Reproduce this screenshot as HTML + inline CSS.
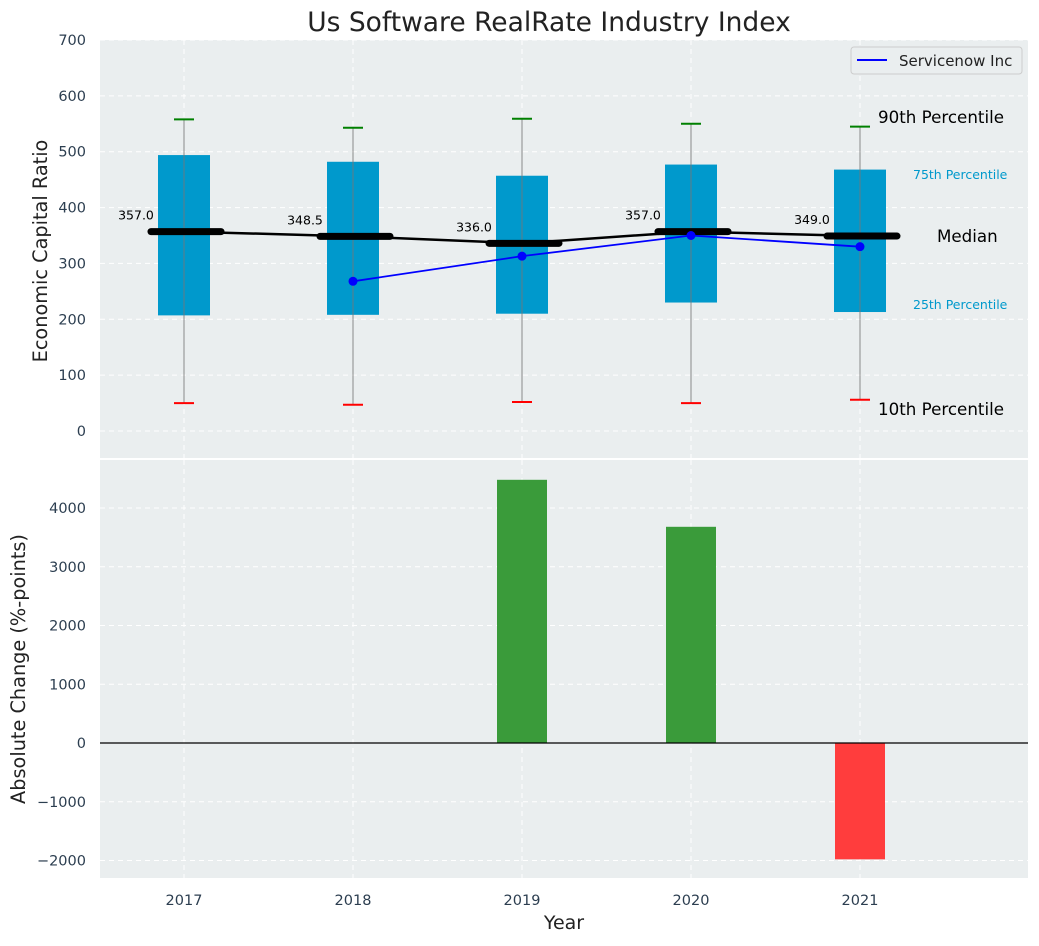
<!DOCTYPE html>
<html><head><meta charset="utf-8"><style>
body{margin:0;background:#fff;font-family:"DejaVu Sans","Liberation Sans",sans-serif;}
svg text{font-family:"DejaVu Sans","Liberation Sans",sans-serif;}
</style></head><body>
<svg id="c" width="1039" height="942" xmlns="http://www.w3.org/2000/svg"></svg>
<script>
const years=[2017,2018,2019,2020,2021];
const p10=[50,47,52,50,56];
const p25=[207,208,210,230,213];
const med=[357,348.5,336,357,349];
const p75=[494,482,457,477,468];
const p90=[558,543,559,550,545];
const svcYears=[2018,2019,2020,2021];
const svcVals=[268,313,350,330];
const changeVals=[0,0,4480,3680,-1980];
const topTicks=[0,100,200,300,400,500,600,700];
const botTicks=[-2000,-1000,0,1000,2000,3000,4000];

const NS="http://www.w3.org/2000/svg";
const svg=document.getElementById('c');
function el(t,a,p){const e=document.createElementNS(NS,t);for(const k in a)e.setAttribute(k,a[k]);(p||svg).appendChild(e);return e;}
const L=100,R=1028,T1=40,B1=458,T2=460,B2=878;
const x=v=>184+(v-2017)*169;
const y1=v=>431-v*(391/700);
const y2=v=>743-v*0.05875;

let bg=el('rect',{x:L,y:T1,width:R-L,height:B1-T1,fill:'#eaeeef'});

let bg2=el('rect',{x:L,y:T2,width:R-L,height:B2-T2,fill:'#eaeeef'});


years.forEach(yr=>{
  el('line',{x1:x(yr),x2:x(yr),y1:T1,y2:B1,stroke:'#fff','stroke-dasharray':'5,4','stroke-width':1});
  el('line',{x1:x(yr),x2:x(yr),y1:T2,y2:B2,stroke:'#fff','stroke-dasharray':'5,4','stroke-width':1});
  let t=el('text',{x:x(yr),y:905,'text-anchor':'middle','font-size':14.5,fill:'#2c3e50'});t.textContent=yr;
  
});
topTicks.forEach(v=>{
  el('line',{x1:L,x2:R,y1:y1(v),y2:y1(v),stroke:'#fff','stroke-dasharray':'5,4'});
  let t=el('text',{x:86,y:y1(v)+5,'text-anchor':'end','font-size':14.5,fill:'#2c3e50'});t.textContent=v;
  
});
botTicks.forEach(v=>{
  el('line',{x1:L,x2:R,y1:y2(v),y2:y2(v),stroke:'#fff','stroke-dasharray':'5,4'});
  let t=el('text',{x:86,y:y2(v)+5,'text-anchor':'end','font-size':14.5,fill:'#2c3e50'});t.textContent=(v<0?'\u2212'+(-v):v);
  
});

years.forEach((yr,i)=>{
  const cx=x(yr);
  let b=el('rect',{x:cx-26,y:y1(p75[i]),width:52,height:y1(p25[i])-y1(p75[i]),fill:'#0099cc'});
  
  el('line',{x1:cx,x2:cx,y1:y1(p90[i]),y2:y1(p10[i]),stroke:'#777','stroke-opacity':0.85,'stroke-width':1});
  let w1=el('line',{x1:cx-10,x2:cx+10,y1:y1(p90[i]),y2:y1(p90[i]),stroke:'green','stroke-width':2});
  
  let w2=el('line',{x1:cx-10,x2:cx+10,y1:y1(p10[i]),y2:y1(p10[i]),stroke:'red','stroke-width':2});
  
});
let mp=years.map((yr,i)=>x(yr)+','+y1(med[i])).join(' ');
let ml=el('polyline',{points:mp,fill:'none',stroke:'#000','stroke-width':2.5});

years.forEach((yr,i)=>{
  let m=el('line',{x1:x(yr)-33,x2:x(yr)+37,y1:y1(med[i]),y2:y1(med[i]),stroke:'#000','stroke-width':7,'stroke-linecap':'round'});
  
  let t=el('text',{x:x(yr)-48,y:y1(med[i])-12,'text-anchor':'middle','font-size':12.5,fill:'#000'});t.textContent=med[i].toFixed(1);
  
});
let sp=svcYears.map((yr,i)=>x(yr)+','+y1(svcVals[i])).join(' ');
let sl=el('polyline',{points:sp,fill:'none',stroke:'blue','stroke-width':1.8});

svcYears.forEach((yr,i)=>{let c=el('circle',{cx:x(yr),cy:y1(svcVals[i]),r:4.5,fill:'blue'});
  });

function txt(s,xx,yy,fs,col,name){let t=el('text',{x:xx,y:yy,'font-size':fs,fill:col});t.textContent=s;}
txt('90th Percentile',878,123,16.7,'#000','p90-annotation');
txt('75th Percentile',913,179,12.5,'#0099cc','p75-annotation');
txt('Median',937,242,16.7,'#000','median-annotation');
txt('25th Percentile',913,309,12.5,'#0099cc','p25-annotation');
txt('10th Percentile',878,415,16.7,'#000','p10-annotation');

let lg=el('g',{});
el('rect',{x:851,y:47,width:171,height:27,rx:3,fill:'#eaeeef',stroke:'#ccc'},lg);
el('line',{x1:857,x2:887,y1:60,y2:60,stroke:'blue','stroke-width':2},lg);
let lt=el('text',{x:899,y:66,'font-size':15,fill:'#222'},lg);lt.textContent='Servicenow Inc';


years.forEach((yr,i)=>{
  const v=changeVals[i];if(v===0)return;
  let b=el('rect',{x:x(yr)-25,y:Math.min(y2(v),y2(0)),width:50,height:Math.abs(y2(v)-y2(0)),fill:v>0?'#3a9b3a':'#ff3d3d'});
  
});
let zl=el('line',{x1:L,x2:R,y1:y2(0),y2:y2(0),stroke:'#000','stroke-width':1.2});


let ti=el('text',{x:549,y:31,'text-anchor':'middle','font-size':26.5,fill:'#222'});ti.textContent='Us Software RealRate Industry Index';

let xl=el('text',{x:564,y:929,'text-anchor':'middle','font-size':19,fill:'#222'});xl.textContent='Year';

let yl1=el('text',{x:0,y:0,'text-anchor':'middle','font-size':19.3,fill:'#222',transform:'translate(47,251) rotate(-90)'});yl1.textContent='Economic Capital Ratio';

let yl2=el('text',{x:0,y:0,'text-anchor':'middle','font-size':19.3,fill:'#222',transform:'translate(25,669) rotate(-90)'});yl2.textContent='Absolute Change (%-points)';

</script>
</body></html>
